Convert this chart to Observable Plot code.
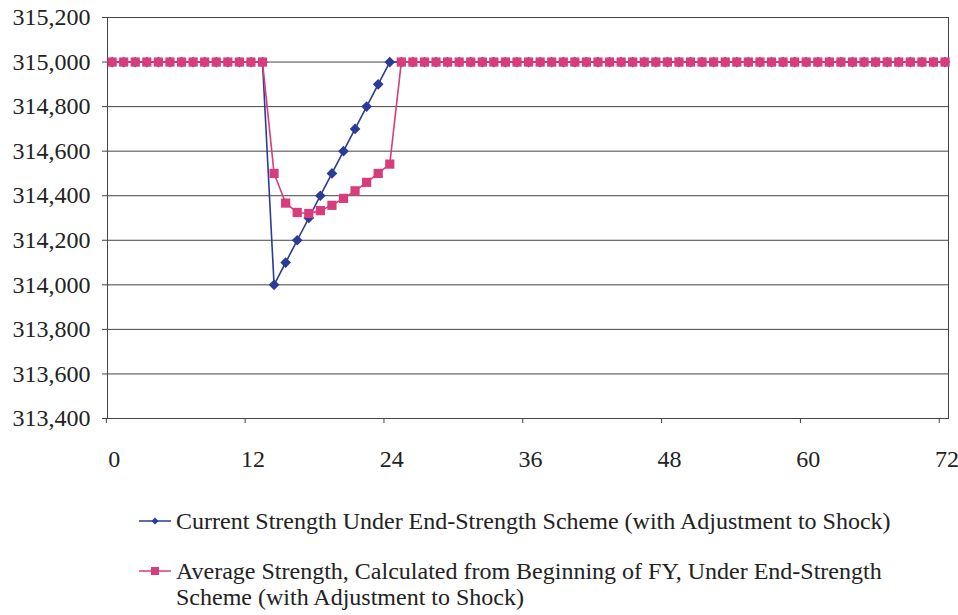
<!DOCTYPE html>
<html>
<head>
<meta charset="utf-8">
<script src="https://cdn.jsdelivr.net/npm/d3@7"></script>
<script src="https://cdn.jsdelivr.net/npm/@observablehq/plot@0.6"></script>
<style>
  html, body { margin: 0; padding: 0; background: #fff; }
  #wrap { position: relative; width: 958px; height: 615px; color: #222; }
  .leg { position: absolute; left: 138px; display: flex; align-items: flex-start; line-height: 26px; }
  .leg svg { flex: none; margin-top: 7px; margin-right: 4px; }
</style>
</head>
<body>
<div id="wrap"></div>
<script>
// Months 0..72
const months = d3.range(0, 73);
// Current Strength Under End-Strength Scheme (with Adjustment to Shock)
const currentStrength = [
  315000, 315000, 315000, 315000, 315000, 315000, 315000, 315000, 315000, 315000,
  315000, 315000, 315000, 315000, 314000, 314100, 314200, 314300, 314400, 314500,
  314600, 314700, 314800, 314900, 315000, 315000, 315000, 315000, 315000, 315000,
  315000, 315000, 315000, 315000, 315000, 315000, 315000, 315000, 315000, 315000,
  315000, 315000, 315000, 315000, 315000, 315000, 315000, 315000, 315000, 315000,
  315000, 315000, 315000, 315000, 315000, 315000, 315000, 315000, 315000, 315000,
  315000, 315000, 315000, 315000, 315000, 315000, 315000, 315000, 315000, 315000,
  315000, 315000, 315000
];
// Average Strength, Calculated from Beginning of FY
const averageStrength = [
  315000, 315000, 315000, 315000, 315000, 315000, 315000, 315000, 315000, 315000,
  315000, 315000, 315000, 315000, 314500, 314367, 314325, 314320, 314333, 314357,
  314388, 314422, 314460, 314500, 314542, 315000, 315000, 315000, 315000, 315000,
  315000, 315000, 315000, 315000, 315000, 315000, 315000, 315000, 315000, 315000,
  315000, 315000, 315000, 315000, 315000, 315000, 315000, 315000, 315000, 315000,
  315000, 315000, 315000, 315000, 315000, 315000, 315000, 315000, 315000, 315000,
  315000, 315000, 315000, 315000, 315000, 315000, 315000, 315000, 315000, 315000,
  315000, 315000, 315000
];
const xTickLabels = [0, 12, 24, 36, 48, 60, 72];
const xTickMarks = [-0.5, 11.5, 23.5, 35.5, 47.5, 59.5, 71.5];
const yTicks = [313400, 313600, 313800, 314000, 314200, 314400, 314600, 314800, 315000, 315200];
const seriesNames = [
  "Current Strength Under End-Strength Scheme (with Adjustment to Shock)",
  "Average Strength, Calculated from Beginning of FY, Under End-Strength Scheme (with Adjustment to Shock)"
];
const blue = "#2b3b98";
const pink = "#d83c7a";
const fontName = "Liberation Serif";

const cur = months.map((m, i) => ({month: m, value: currentStrength[i]}));
const avg = months.map((m, i) => ({month: m, value: averageStrength[i]}));

const chart = Plot.plot({
  width: 958,
  height: 490,
  marginLeft: 107,
  marginRight: 10,
  marginTop: 17,
  marginBottom: 72,
  style: {fontFamily: fontName, fontSize: "24px", color: "#222", background: "#fff"},
  x: {type: "linear", domain: [-0.4, 72.3]},
  y: {domain: [313400, 315200]},
  marks: [
    Plot.ruleY(yTicks, {stroke: "#444", strokeWidth: 1}),
    Plot.frame({stroke: "#444", strokeWidth: 1}),
    Plot.axisY({ticks: yTicks, tickFormat: d3.format(","), tickSize: 5, tickPadding: 12, label: null, stroke: "#444", fontSize: 24}),
    Plot.axisX({ticks: xTickMarks, tickSize: 5, tickFormat: () => "", label: null, stroke: "#444"}),
    Plot.axisX({ticks: xTickLabels, tickSize: 0, tickPadding: 31, label: null, dx: 2, fontSize: 24}),
    Plot.line(cur, {x: "month", y: "value", stroke: blue, strokeWidth: 1.6}),
    Plot.dot(cur, {x: "month", y: "value", symbol: "diamond2", r: 4.8, fill: blue, stroke: null}),
    Plot.line(avg, {x: "month", y: "value", stroke: pink, strokeWidth: 1.6}),
    Plot.dot(avg, {x: "month", y: "value", symbol: "square", r: 5.2, fill: pink, stroke: null})
  ]
});

const wrap = document.getElementById("wrap");
wrap.appendChild(chart);

function swatch(color, shape) {
  const s = d3.create("svg").attr("width", 34).attr("height", 12);
  s.append("line").attr("x1", 1).attr("x2", 33).attr("y1", 6).attr("y2", 6).attr("stroke", color).attr("stroke-width", 1.5);
  if (shape === "diamond") {
    s.append("path").attr("d", "M17,2.5L20.5,6L17,9.5L13.5,6Z").attr("fill", color);
  } else {
    s.append("rect").attr("x", 13).attr("y", 2).attr("width", 8).attr("height", 8).attr("fill", color);
  }
  return s.node();
}
const items = [
  {name: seriesNames[0], color: blue, shape: "diamond", top: 508},
  {name: seriesNames[1], color: pink, shape: "square", top: 558}
];
for (const it of items) {
  const d = document.createElement("div");
  d.className = "leg";
  d.style.top = it.top + "px";
  d.appendChild(swatch(it.color, it.shape));
  const t = document.createElement("div");
  t.style.width = "740px";
  t.style.fontFamily = '"' + fontName + '"';
  t.style.fontSize = "24px";
  t.textContent = it.name;
  d.appendChild(t);
  wrap.appendChild(d);
}
</script>
</body>
</html>
